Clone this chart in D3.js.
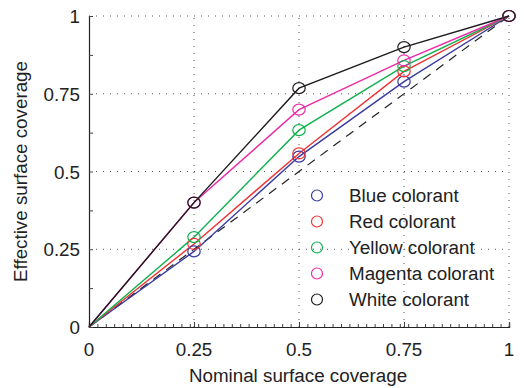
<!DOCTYPE html>
<html><head><meta charset="utf-8">
<script src="https://cdn.jsdelivr.net/npm/d3@7"></script>
<style>body{margin:0;background:#fff}svg{display:block}text{font-family:"Liberation Sans",Arial,sans-serif;fill:#222}</style>
</head><body><svg id="c" width="524" height="388"></svg>
<script>
const xValues = [0, 0.25, 0.5, 0.75, 1];
const blue    = [0, 0.243, 0.548, 0.789, 1];
const red     = [0, 0.267, 0.558, 0.822, 1];
const yellow  = [0, 0.289, 0.633, 0.839, 1];
const magenta = [0, 0.400, 0.699, 0.857, 1];
const white   = [0, 0.400, 0.768, 0.900, 1];
const seriesNames = ["Blue colorant","Red colorant","Yellow colorant","Magenta colorant","White colorant"];
const seriesColors = ["#3a3aa0","#f03232","#10b050","#ec2aa8","#1e1a1e"];
const majorTicks = [0, 0.25, 0.5, 0.75, 1];
const tickLabels = ["0","0.25","0.5","0.75","1"];
const xMinorTicks = d3.range(0, 51).map(i => i / 50);
const yMinorTicks = d3.range(0, 9).map(i => i / 8);
const refLine = [0, 1];

const series = [blue, red, yellow, magenta, white];
const svg = d3.select("#c");
const m = {l:89, r:509, t:16, b:327};
const x = d3.scaleLinear().domain([0,1]).range([m.l, m.r]);
const y = d3.scaleLinear().domain([0,1]).range([m.b, m.t]);
const FS = 18.8;

// dotted grid
const g = svg.append("g").attr("stroke","#555").attr("stroke-width",1).attr("stroke-dasharray","1,6");
majorTicks.slice(1).forEach(v=>{
  g.append("line").attr("x1",x(v)).attr("x2",x(v)).attr("y1",m.b).attr("y2",m.t);
  g.append("line").attr("x1",m.l).attr("x2",m.r).attr("y1",y(v)).attr("y2",y(v));
});

// axes with inward ticks
const xAxisMinor = d3.axisTop(x).tickValues(xMinorTicks).tickSize(3).tickFormat("");
const xAxisMajor = d3.axisTop(x).tickValues(majorTicks).tickSize(5).tickFormat("");
const yAxisMinor = d3.axisRight(y).tickValues(yMinorTicks).tickSize(4).tickFormat("");
const gx1 = svg.append("g").attr("transform",`translate(0,${m.b})`).call(xAxisMinor);
const gx2 = svg.append("g").attr("transform",`translate(0,${m.b})`).call(xAxisMajor);
const gy = svg.append("g").attr("transform",`translate(${m.l},0)`).call(yAxisMinor);
[gx1,gx2,gy].forEach(a=>{a.selectAll("path").attr("stroke","#222").attr("stroke-width",1.2);a.selectAll("line").attr("stroke","#444");});

// tick labels
svg.append("g").selectAll("text").data(majorTicks).join("text")
  .attr("x",d=>x(d)).attr("y",m.b+29).attr("text-anchor","middle").attr("font-size",FS)
  .text((d,i)=>tickLabels[i]);
svg.append("g").selectAll("text").data(majorTicks).join("text")
  .attr("x",m.l-9).attr("y",d=>y(d)+7).attr("text-anchor","end").attr("font-size",FS)
  .text((d,i)=>tickLabels[i]);

// axis titles
svg.append("text").attr("x",(m.l+m.r)/2 - 1).attr("y",382).attr("text-anchor","middle").attr("font-size",FS).text("Nominal surface coverage");
svg.append("text").attr("transform",`translate(27,${(m.t+m.b)/2}) rotate(-90)`).attr("text-anchor","middle").attr("font-size",FS).text("Effective surface coverage");

// reference dashed line
svg.append("line").attr("x1",x(refLine[0])).attr("y1",y(refLine[0])).attr("x2",x(refLine[1])).attr("y2",y(refLine[1]))
  .attr("stroke","#222").attr("stroke-width",1.2).attr("stroke-dasharray","9,7");

const line = d3.line().x((d,i)=>x(xValues[i])).y(d=>y(d));
series.forEach((s,k)=>{
  svg.append("path").attr("d",line(s)).attr("fill","none").attr("stroke",seriesColors[k]).attr("stroke-width",1.4);
});
series.forEach((s,k)=>{
  svg.append("g").selectAll("ellipse").data(s.slice(1)).join("ellipse")
    .attr("cx",(d,i)=>x(xValues[i+1])).attr("cy",d=>y(d)).attr("rx",6.2).attr("ry",5.5)
    .attr("fill","none").attr("stroke",seriesColors[k]).attr("stroke-width",1.2);
});

// legend
const lg = svg.append("g");
seriesNames.forEach((n,k)=>{
  const yy = 195.5 + k*26;
  lg.append("ellipse").attr("cx",317).attr("cy",yy).attr("rx",5.5).attr("ry",5.5).attr("fill","none").attr("stroke",seriesColors[k]).attr("stroke-width",1.2);
  lg.append("text").attr("x",349).attr("y",yy+6.5).attr("font-size",FS).text(n);
});
</script></body></html>
